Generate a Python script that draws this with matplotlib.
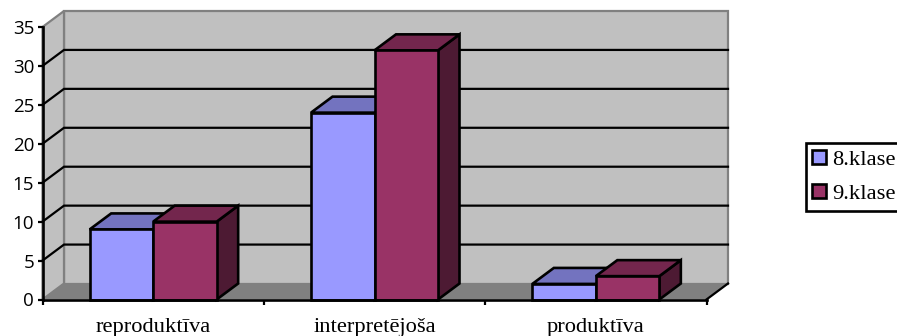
import matplotlib
matplotlib.use("Agg")
import matplotlib.pyplot as plt
from matplotlib.patches import Polygon, Patch

categories = ["reproduktīva", "interpretējoša", "produktīva"]
series_names = ["8.klase", "9.klase"]
klase_8 = [9, 24, 2]
klase_9 = [10, 32, 3]
y_ticks = [0, 5, 10, 15, 20, 25, 30, 35]

FACE = {"8.klase": "#9999FF", "9.klase": "#993366"}
TOP = {"8.klase": "#7373BF", "9.klase": "#73264D"}
SIDE = {"8.klase": "#4D4D80", "9.klase": "#4D1A33"}
WALL = "#C0C0C0"
FLOOR = "#808080"

W, H = 897, 336
fig = plt.figure(figsize=(W / 100, H / 100), dpi=100, facecolor="white")
ax = fig.add_axes([42.5 / W, (H - 299.5) / H, 664 / W, 272.5 / H])
ax.set_xlim(-0.5, 2.5)
ax.set_ylim(0, 35)
ax.patch.set_visible(False)

# Oblique depth of the 3D box, in data units
DX = 21.5 / (664 / 3)
DY = 16 / (272.5 / 35)
X0, X1, Y0, Y1 = -0.5, 2.5, 0, 35


def poly(pts, fc, ec="none", lw=0, z=1):
    ax.add_patch(Polygon(pts, closed=True, facecolor=fc, edgecolor=ec, linewidth=lw,
                         zorder=z, clip_on=False, joinstyle="miter"))


# Walls and floor
poly([(X0 + DX, Y0 + DY), (X1 + DX, Y0 + DY), (X1 + DX, Y1 + DY), (X0 + DX, Y1 + DY)],
     WALL, FLOOR, 1.6)
poly([(X0, Y0), (X0 + DX, Y0 + DY), (X0 + DX, Y1 + DY), (X0, Y1)], WALL, FLOOR, 1.6)

# Gridlines run along the side wall and across the back wall
for t in y_ticks[1:-1]:
    ax.plot([X0, X0 + DX, X1 + DX], [t, t + DY, t + DY], color="black", lw=1.6,
            zorder=2, clip_on=False, solid_joinstyle="miter")

poly([(X0, Y0), (X0 + DX, Y0 + DY), (X1 + DX, Y0 + DY), (X1, Y0)], FLOOR, z=3)
ax.plot([X1, X1 + DX], [Y0, Y0 + DY], color="black", lw=1.6, zorder=3, clip_on=False)

# Clustered 3D columns
BAR_W = 63.5 / (664 / 3)
for i in range(len(categories)):
    for name, vals, left in ((series_names[0], klase_8, i - BAR_W),
                             (series_names[1], klase_9, i)):
        v = vals[i]
        right = left + BAR_W
        ek = dict(ec="black", lw=1.9, z=4)
        poly([(right, 0), (right + DX, DY), (right + DX, v + DY), (right, v)], SIDE[name], **ek)
        poly([(left, v), (left + DX, v + DY), (right + DX, v + DY), (right, v)], TOP[name], **ek)
        poly([(left, 0), (right, 0), (right, v), (left, v)], FACE[name], **ek)

# Axes
for s in ("top", "right"):
    ax.spines[s].set_visible(False)
for s in ("left", "bottom"):
    ax.spines[s].set_linewidth(1.9)
    ax.spines[s].set_zorder(6)
ax.set_yticks(y_ticks)
ax.set_yticklabels([str(t) for t in y_ticks], family="Open Sans", fontsize=13.5)
ax.tick_params(axis="y", length=3.5, width=1.6, pad=2.5)
ax.set_xticks([-0.5, 0.5, 1.5, 2.5])
ax.set_xticklabels([])
ax.tick_params(axis="x", which="major", length=3.5, width=1.6)
ax.set_xticks([0, 1, 2], minor=True)
ax.set_xticklabels(categories, minor=True, family="Liberation Serif", fontsize=16.2)
ax.tick_params(axis="x", which="minor", length=0, pad=13)

handles = [Patch(facecolor=FACE[n], edgecolor="black", linewidth=1.9, label=n) for n in series_names]
leg = fig.legend(handles=handles, loc="upper left",
                 bbox_to_anchor=(805.5 / W, (H - 143) / H), borderaxespad=0,
                 prop={"family": "Liberation Serif", "size": 16.2},
                 frameon=True, fancybox=False, edgecolor="black", framealpha=1,
                 handlelength=0.62, handleheight=0.62, handletextpad=0.25,
                 labelspacing=0.62, borderpad=0.3)
leg.get_frame().set_linewidth(1.9)

fig.savefig("out.png", dpi=100)
